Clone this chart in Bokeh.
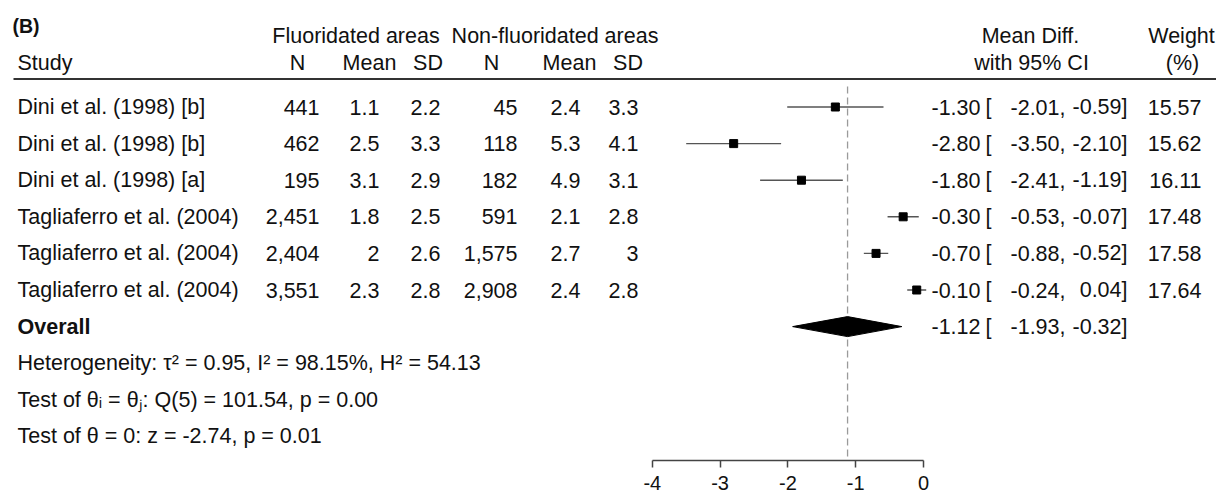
from bokeh.plotting import figure
from bokeh.models import Range1d, LinearAxis, FixedTicker, ColumnDataSource
from bokeh.core.properties import value
from bokeh.embed import file_html
from bokeh.resources import INLINE

# ---------------- data ----------------
studies = ["Dini et al. (1998) [b]", "Dini et al. (1998) [b]", "Dini et al. (1998) [a]",
           "Tagliaferro et al. (2004)", "Tagliaferro et al. (2004)", "Tagliaferro et al. (2004)"]
fl_n = [441, 462, 195, 2451, 2404, 3551]
fl_mean = [1.1, 2.5, 3.1, 1.8, 2.0, 2.3]
fl_sd = [2.2, 3.3, 2.9, 2.5, 2.6, 2.8]
nf_n = [45, 118, 182, 591, 1575, 2908]
nf_mean = [2.4, 5.3, 4.9, 2.1, 2.7, 2.4]
nf_sd = [3.3, 4.1, 3.1, 2.8, 3.0, 2.8]
mean_diff = [-1.30, -2.80, -1.80, -0.30, -0.70, -0.10]
ci_low = [-2.01, -3.50, -2.41, -0.53, -0.88, -0.24]
ci_high = [-0.59, -2.10, -1.19, -0.07, -0.52, 0.04]
weights = [15.57, 15.62, 16.11, 17.48, 17.58, 17.64]
overall_md = -1.12
overall_low = -1.93
overall_high = -0.32
footer_lines = ["Heterogeneity: \u03c4\u00b2 = 0.95, I\u00b2 = 98.15%, H\u00b2 = 54.13",
                "Test of \u03b8\u1d62 = \u03b8\u2c7c: Q(5) = 101.54, p = 0.00",
                "Test of \u03b8 = 0: z = -2.74, p = 0.01"]
tick_values = [-4, -3, -2, -1, 0]
tick_labels = ["-4", "-3", "-2", "-1", "0"]

# ---------------- layout ----------------
W, H = 1216, 494
AXIS_PANEL = 34
FRAME_H = H - AXIS_PANEL
ROW0 = 106.5      # pixel y of first study row
ROWH = 36.6       # pixel spacing of rows
PX_ZERO = 923     # pixel x of effect 0
PX_UNIT = 67.8    # pixels per effect unit

def row_of(py):
    return (py - ROW0) / ROWH

FONT = value("Liberation Sans")
FS = "21.5px"
TXT = "#111111"

p = figure(width=W, height=H, x_range=Range1d(0, W),
           y_range=Range1d(row_of(FRAME_H), row_of(0)),
           x_axis_type=None, y_axis_type=None,
           output_backend="svg", toolbar_location=None,
           min_border=0, min_border_bottom=AXIS_PANEL, outline_line_color=None)
p.background_fill_color = "white"
p.border_fill_color = "white"
p.extra_x_ranges = {"es": Range1d(-PX_ZERO / PX_UNIT, (W - PX_ZERO) / PX_UNIT)}

rows = list(range(len(studies)))
n_rows = len(studies)

def fmt_g(v):
    return "{:g}".format(v)

src = ColumnDataSource(dict(
    y=rows,
    study=studies,
    fl_n=["{:,}".format(v) for v in fl_n],
    fl_mean=[fmt_g(v) for v in fl_mean],
    fl_sd=[fmt_g(v) for v in fl_sd],
    nf_n=["{:,}".format(v) for v in nf_n],
    nf_mean=[fmt_g(v) for v in nf_mean],
    nf_sd=[fmt_g(v) for v in nf_sd],
    md=["{:.2f}".format(v) for v in mean_diff],
    lo=["{:.2f},".format(v) for v in ci_low],
    hi=["{:.2f}]".format(v) for v in ci_high],
    br=["["] * n_rows,
    wt=["{:.2f}".format(v) for v in weights],
    est=mean_diff, low=ci_low, high=ci_high,
))

def col(field, x, align):
    p.text(x=x, y="y", text=field, source=src, text_font=FONT, text_font_size=FS,
           text_align=align, text_baseline="middle", text_color=TXT)

col("study", 17, "left")
col("fl_n", 319, "right")
col("fl_mean", 379, "right")
col("fl_sd", 440, "right")
col("nf_n", 517, "right")
col("nf_mean", 580, "right")
col("nf_sd", 638, "right")
col("md", 980, "right")
col("br", 985, "left")
col("lo", 1065, "right")
col("hi", 1127, "right")
col("wt", 1201, "right")

def label(x, py, t, align="center", bold=False, size=FS):
    p.text(x=[x], y=[row_of(py)], text=[t], text_font=FONT, text_font_size=size,
           text_align=align, text_baseline="middle", text_color=TXT,
           text_font_style="bold" if bold else "normal")

# headers
label(12, 25, "(B)", "left", bold=True, size="19.5px")
label(355.5, 35, "Fluoridated areas")
label(554.5, 35, "Non-fluoridated areas")
label(17, 62, "Study", "left")
label(297, 62, "N")
label(369, 62, "Mean")
label(427.5, 62, "SD")
label(491, 62, "N")
label(569, 62, "Mean")
label(627.5, 62, "SD")
label(1030, 35, "Mean Diff.")
label(1031, 62, "with 95% CI")
label(1181, 35, "Weight")
label(1182, 62, "(%)")

# header rule
p.segment(x0=[13], x1=[W], y0=[row_of(78.5)], y1=[row_of(78.5)],
          line_color="#333333", line_width=2)

# overall row + footer
ov_row = n_rows
p.text(x=[17], y=[ov_row], text=["Overall"], text_font=FONT, text_font_size=FS,
       text_align="left", text_baseline="middle", text_color=TXT, text_font_style="bold")
p.text(x=[980], y=[ov_row], text=["{:.2f}".format(overall_md)], text_font=FONT, text_font_size=FS,
       text_align="right", text_baseline="middle", text_color=TXT)
p.text(x=[985], y=[ov_row], text=["["], text_font=FONT, text_font_size=FS,
       text_align="left", text_baseline="middle", text_color=TXT)
p.text(x=[1065], y=[ov_row], text=["{:.2f},".format(overall_low)], text_font=FONT, text_font_size=FS,
       text_align="right", text_baseline="middle", text_color=TXT)
p.text(x=[1127], y=[ov_row], text=["{:.2f}]".format(overall_high)], text_font=FONT, text_font_size=FS,
       text_align="right", text_baseline="middle", text_color=TXT)
p.text(x=[17] * len(footer_lines), y=[ov_row + 1 + i for i in range(len(footer_lines))],
       text=footer_lines, text_font=FONT, text_font_size=FS,
       text_align="left", text_baseline="middle", text_color=TXT)

# reference (overall) dashed line
p.segment(x0=[overall_md], x1=[overall_md], y0=[row_of(86)], y1=[row_of(FRAME_H)],
          x_range_name="es", line_color="#9a9a9a", line_width=1.3, line_dash="7 4")

# CIs and squares
p.segment(x0="low", x1="high", y0="y", y1="y", source=src, x_range_name="es",
          line_color="#555555", line_width=1.4)
p.scatter(x="est", y="y", source=src, x_range_name="es", marker="square",
          size=8, fill_color="black", line_color="black")

# overall diamond
dh = 10 / ROWH
p.patch(x=[overall_low, overall_md, overall_high, overall_md],
        y=[ov_row, ov_row - dh, ov_row, ov_row + dh],
        x_range_name="es", fill_color="black", line_color="black", line_width=1)

# axis
ax = LinearAxis(x_range_name="es", ticker=FixedTicker(ticks=tick_values), bounds=(tick_values[0], tick_values[-1]))
ax.major_label_overrides = {v: t for v, t in zip(tick_values, tick_labels)}
ax.axis_line_color = "#444444"
ax.axis_line_width = 1.5
ax.major_tick_line_color = "#444444"
ax.major_tick_line_width = 1.5
ax.major_tick_out = 7
ax.major_tick_in = 0
ax.minor_tick_line_color = None
ax.major_label_text_font = "Liberation Sans"
ax.major_label_text_font_size = "20px"
ax.major_label_text_color = TXT
ax.major_label_standoff = 8
p.add_layout(ax, "below")

open("out.html", "w").write(file_html(p, INLINE))
